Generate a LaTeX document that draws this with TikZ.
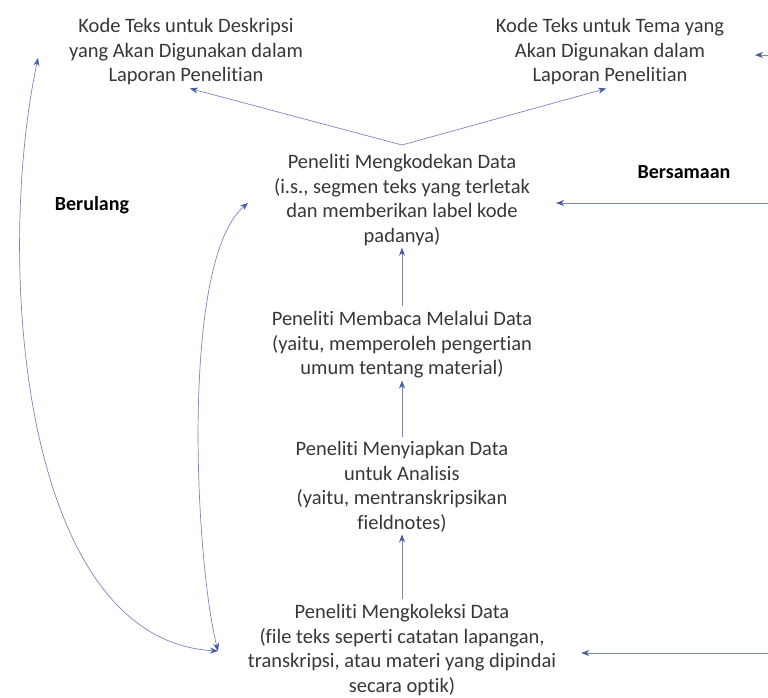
\documentclass[tikz,border=0pt]{standalone}
\usepackage{fontspec}
\setmainfont{Carlito}[Ligatures={NoCommon}]
\usetikzlibrary{arrows.meta}
\definecolor{linec}{RGB}{120,135,190}
\definecolor{tipc}{RGB}{70,90,160}
\definecolor{textc}{RGB}{55,55,55}
\tikzset{
    steptext/.style={align=center, text=textc, font=\fontsize{20.5}{24.5}\selectfont, inner sep=2pt},
    labeltext/.style={font=\fontsize{20}{24.5}\selectfont\bfseries, text=black},
    flow/.style={draw=linec, line width=0.7pt, -{Stealth[length=8pt,width=6pt,color=tipc]}},
    flowboth/.style={draw=linec, line width=0.7pt, {Stealth[length=8pt,width=6pt,color=tipc]}-{Stealth[length=8pt,width=6pt,color=tipc]}}
}
\begin{document}
\begin{tikzpicture}[x=1pt,y=-1pt]

    \useasboundingbox (0,0) rectangle (768,698);

    % Top outputs
    \node[steptext] (desc) at (186,52) {Kode Teks untuk Deskripsi\\yang Akan Digunakan dalam\\Laporan Penelitian};
    \node[steptext] (tema) at (610,52) {Kode Teks untuk Tema yang\\Akan Digunakan dalam\\Laporan Penelitian};

    % Main steps
    \node[steptext] (coding) at (402,200) {Peneliti Mengkodekan Data\\(i.s., segmen teks yang terletak\\dan memberikan label kode\\padanya)};
    \node[steptext] (read) at (402,345) {Peneliti Membaca Melalui Data\\(yaitu, memperoleh pengertian\\umum tentang material)};
    \node[steptext] (prep) at (402,487) {Peneliti Menyiapkan Data\\untuk Analisis\\(yaitu, mentranskripsikan\\fieldnotes)};
    \node[steptext] (collect) at (402,650) {Peneliti Mengkoleksi Data\\(file teks seperti catatan lapangan,\\transkripsi, atau materi yang dipindai\\secara optik)};

    % Labels
    \node[labeltext] (berulang) at (92,205) {Berulang};
    \node[labeltext] (bersamaan) at (684,172) {Bersamaan};

    % Free ends
    \coordinate (rtop) at (768,55);
    \coordinate (ltop) at (755,55);
    \coordinate (rmid) at (768,203);
    \coordinate (rbot) at (768,653);
    \coordinate (cl) at (218,651);
    \coordinate (ctop) at (402,145);
    \coordinate (outertop) at (38,58);
    \coordinate (innertop) at (248,203);

    % Upward flow
    \draw[flow, shorten <=3pt] (collect.north) -- (prep.south);
    \draw[flow, shorten <=3pt] (prep.north) -- (read.south);
    \draw[flow, shorten <=3pt] (read.north) -- (coding.south);
    \draw[flow, shorten >=4pt] (ctop) -- (desc.south);
    \draw[flow, shorten >=4pt] (ctop) -- (tema.south);

    % From the right
    \draw[flow] (rtop) -- (ltop);
    \draw[flow, shorten >=24pt] (rmid) -- (coding.east |- rmid);
    \draw[flow, shorten >=23pt] (rbot) -- (collect.east |- rbot);

    % Iterative loops
    \draw[flowboth] (cl) .. controls (20,640) and (-5,260) .. (outertop);
    \draw[flowboth] (cl) .. controls (195,560) and (180,260) .. (innertop);
\end{tikzpicture}
\end{document}
